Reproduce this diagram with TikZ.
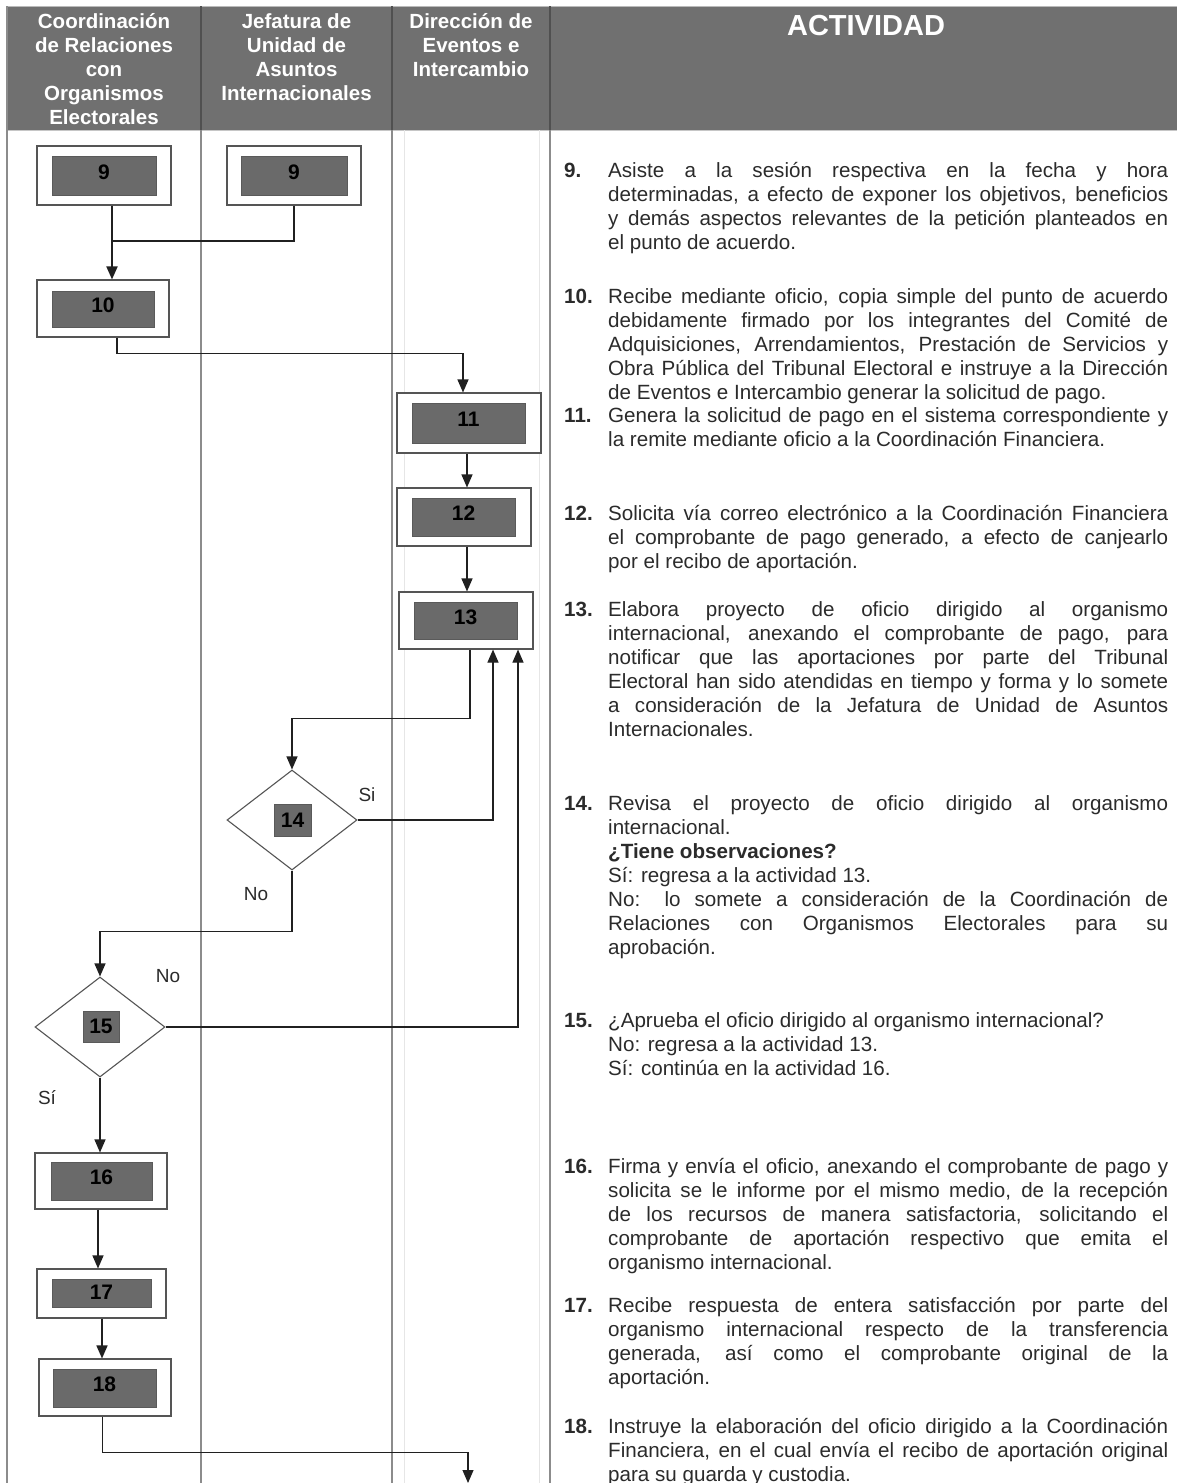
\documentclass[tikz,border=0pt]{standalone}
\usepackage{fontspec}
\setmainfont{Liberation Sans}
\usetikzlibrary{shapes.geometric,arrows.meta}
\definecolor{hdr}{HTML}{707070}
\definecolor{hdrline}{HTML}{505050}
\definecolor{boxfill}{HTML}{6A6A6A}
\definecolor{boxline}{HTML}{555555}
\definecolor{lane}{HTML}{8C8C8C}
\definecolor{faint}{HTML}{E6E6E6}
\definecolor{txt}{HTML}{2B2B2B}
\definecolor{conn}{HTML}{202020}
\begin{document}
\begin{tikzpicture}[x=1pt,y=-1pt,
  outerbox/.style={rectangle, draw=boxline, line width=1.1pt, fill=white, inner sep=0pt},
  innerbox/.style={rectangle, fill=boxfill, draw=boxfill!85!black, line width=0.6pt, inner sep=0pt,
    font=\bfseries\fontsize{21}{24}\selectfont, text=black},
  procnum/.style={innerbox, text depth=7pt},
  decision/.style={diamond, draw=boxline, line width=1.1pt, fill=white, inner sep=0pt, aspect=1.3},
  conn/.style={draw=conn, line width=1.1pt},
  arr/.style={conn, -{Triangle[length=13pt,width=11pt]}},
  lbl/.style={font=\fontsize{19}{22}\selectfont, text=txt, inner sep=0pt},
  hdrtext/.style={font=\bfseries\fontsize{20.5}{24}\selectfont, text=white, align=center, anchor=north, inner sep=0pt},
  num/.style={font=\bfseries\fontsize{20.6}{24}\selectfont, text=txt, anchor=base west, inner sep=0pt},
  para/.style={font=\fontsize{20.6}{24}\selectfont, text=txt, anchor=north west, inner sep=0pt, text width=560pt, align=justify},
]
\useasboundingbox (0,0) rectangle (1177,1483);
\fill[white] (0,0) rectangle (1177,1483);

% header band
\fill[hdr] (7,6) rectangle (1177,130);
\draw[lane!60, line width=1pt] (7,6) -- (1177,6);
\draw[lane!50, line width=1pt] (7,130) -- (1177,130);
\foreach \xx in {201,392,550} {\draw[hdrline, line width=1.2pt] (\xx,6) -- (\xx,130);}
\draw[lane, line width=1.2pt] (7,6) -- (7,130);

% lanes
\foreach \xx in {404,539} {\draw[faint, line width=0.8pt] (\xx,130) -- (\xx,1483);}
\foreach \xx in {7,201,392,550} {\draw[lane, line width=1.2pt] (\xx,130) -- (\xx,1483);}

% header texts
\node[hdrtext] (h1) at (104,11.2) {\strut Coordinación\\\strut de Relaciones\\\strut con\\\strut Organismos\\\strut Electorales};
\node[hdrtext] (h2) at (296.5,11.2) {\strut Jefatura de\\\strut Unidad de\\\strut Asuntos\\\strut Internacionales};
\node[hdrtext] (h3) at (471,11.2) {\strut Dirección de\\\strut Eventos e\\\strut Intercambio};
\node[font=\bfseries\fontsize{29}{32}\selectfont, text=white, anchor=base, inner sep=0pt] (h4) at (866,35) {ACTIVIDAD};

% process boxes
\node[outerbox, minimum width=134pt, minimum height=59pt] (n9a) at (104,175.5) {};
\node[procnum, minimum width=104pt, minimum height=39pt] (i9a) at (104,175.5) {9};
\node[outerbox, minimum width=134pt, minimum height=59pt] (n9b) at (294,175.5) {};
\node[procnum, minimum width=106pt, minimum height=39pt] (i9b) at (294,176) {9};
\node[outerbox, minimum width=132pt, minimum height=57pt] (n10) at (103,308.5) {};
\node[procnum, minimum width=102pt, minimum height=36pt] (i10) at (103,309) {10};
\node[outerbox, minimum width=144pt, minimum height=60pt] (n11) at (469,423) {};
\node[procnum, minimum width=113pt, minimum height=40pt] (i11) at (468.5,423) {11};
\node[outerbox, minimum width=134pt, minimum height=58pt] (n12) at (464,517) {};
\node[procnum, minimum width=103pt, minimum height=38pt] (i12) at (463.5,517) {12};
\node[outerbox, minimum width=134pt, minimum height=57pt] (n13) at (466,620.5) {};
\node[procnum, minimum width=103pt, minimum height=37pt] (i13) at (465.5,620.5) {13};

% decisions
\node[decision, minimum width=130pt, minimum height=100pt] (d14) at (292,820) {};
\node[innerbox, minimum width=37pt, minimum height=32pt] (i14) at (292.5,820) {14};
\node[decision, minimum width=130pt, minimum height=100pt] (d15) at (100,1027) {};
\node[innerbox, minimum width=36pt, minimum height=31pt] (i15) at (101,1026.5) {15};

\node[outerbox, minimum width=132pt, minimum height=56pt] (n16) at (101,1181) {};
\node[procnum, minimum width=101pt, minimum height=38pt] (i16) at (101.5,1181) {16};
\node[outerbox, minimum width=129pt, minimum height=49pt] (n17) at (101.5,1293.5) {};
\node[innerbox, text depth=2pt, minimum width=99pt, minimum height=28pt] (i17) at (101.5,1293) {17};
\node[outerbox, minimum width=132pt, minimum height=57pt] (n18) at (105,1387.5) {};
\node[procnum, minimum width=103pt, minimum height=38pt] (i18) at (104.5,1388) {18};

% connectors
\coordinate (j1) at (112,241);
\coordinate (cont) at (468,1483);
\draw[arr, line width=1.8pt] ([xshift=8pt]n9a.south) -- ([xshift=8pt]n9a.south |- n10.north);
\draw[conn] (n9b.south) |- (j1);
\draw[arr] ([xshift=14pt]n10.south) -- ++(0,16) -| ([xshift=-6pt]n11.north);
\draw[arr] ([xshift=-2pt]n11.south) -- ([xshift=-2pt]n11.south |- n12.north);
\draw[arr] ([xshift=3pt]n12.south) -- ([xshift=3pt]n12.south |- n13.north);
\draw[arr] ([xshift=4pt]n13.south) -- ++(0,69) -| (d14.north);
\draw[arr] (d14.east) -| ([xshift=27pt]n13.south);
\draw[arr] (d14.south) -- ++(0,61) -| (d15.north);
\draw[arr] (d15.east) -| ([xshift=52pt]n13.south);
\draw[arr] (d15.south) -- (d15.south |- n16.north);
\draw[arr] ([xshift=-3pt]n16.south) -- ([xshift=-3pt]n16.south |- n17.north);
\draw[arr, line width=1.6pt] ([xshift=0.5pt]n17.south) -- ([xshift=0.5pt]n17.south |- n18.north);
\draw[arr] ([xshift=-2.5pt]n18.south) -- ++(0,36) -| (cont);

% connector labels
\node[lbl] (s14) at (367,795) {Si};
\node[lbl] (no14) at (256,894) {No};
\node[lbl] (no15) at (168,976) {No};
\node[lbl] (s15) at (47,1098) {Sí};

% activity texts
\node[num] (l9) at (564,177) {9.};
\node[para] (t9) at (608,160.2) {\strut Asiste a la sesión respectiva en la fecha y hora\linebreak determinadas, a efecto de exponer los objetivos, beneficios\linebreak y demás aspectos relevantes de la petición planteados en\linebreak el punto de acuerdo.};
\node[num] (l10) at (564,303) {10.};
\node[para] (t10) at (608,286.2) {\strut Recibe mediante oficio, copia simple del punto de acuerdo\linebreak debidamente firmado por los integrantes del Comité de\linebreak Adquisiciones, Arrendamientos, Prestación de Servicios y\linebreak Obra Pública del Tribunal Electoral e instruye a la Dirección\linebreak de Eventos e Intercambio generar la solicitud de pago.};
\node[num] (l11) at (564,422) {11.};
\node[para] (t11) at (608,405.2) {\strut Genera la solicitud de pago en el sistema correspondiente y\linebreak la remite mediante oficio a la Coordinación Financiera.};
\node[num] (l12) at (564,520) {12.};
\node[para] (t12) at (608,503.2) {\strut Solicita vía correo electrónico a la Coordinación Financiera\linebreak el comprobante de pago generado, a efecto de canjearlo\linebreak por el recibo de aportación.};
\node[num] (l13) at (564,616) {13.};
\node[para] (t13) at (608,599.2) {\strut Elabora proyecto de oficio dirigido al organismo\linebreak internacional, anexando el comprobante de pago, para\linebreak notificar que las aportaciones por parte del Tribunal\linebreak Electoral han sido atendidas en tiempo y forma y lo somete\linebreak a consideración de la Jefatura de Unidad de Asuntos\linebreak Internacionales.};
\node[num] (l14) at (564,810) {14.};
\node[para] (t14) at (608,793.2) {\strut Revisa el proyecto de oficio dirigido al organismo\linebreak internacional.\newline\strut\textbf{¿Tiene observaciones?}\newline\strut Sí: regresa a la actividad 13.\newline\strut No: lo somete a consideración de la Coordinación de\linebreak Relaciones con Organismos Electorales para su\linebreak aprobación.};
\node[num] (l15) at (564,1027) {15.};
\node[para] (t15) at (608,1010.2) {\strut ¿Aprueba el oficio dirigido al organismo internacional?\newline\strut No: regresa a la actividad 13.\newline\strut Sí: continúa en la actividad 16.};
\node[num] (l16) at (564,1173) {16.};
\node[para] (t16) at (608,1156.2) {\strut Firma y envía el oficio, anexando el comprobante de pago y\linebreak solicita se le informe por el mismo medio, de la recepción\linebreak de los recursos de manera satisfactoria, solicitando el\linebreak comprobante de aportación respectivo que emita el\linebreak organismo internacional.};
\node[num] (l17) at (564,1312) {17.};
\node[para] (t17) at (608,1295.2) {\strut Recibe respuesta de entera satisfacción por parte del\linebreak organismo internacional respecto de la transferencia\linebreak generada, así como el comprobante original de la\linebreak aportación.};
\node[num] (l18) at (564,1433) {18.};
\node[para] (t18) at (608,1416.2) {\strut Instruye la elaboración del oficio dirigido a la Coordinación\linebreak Financiera, en el cual envía el recibo de aportación original\linebreak para su guarda y custodia.};
\end{tikzpicture}
\end{document}
